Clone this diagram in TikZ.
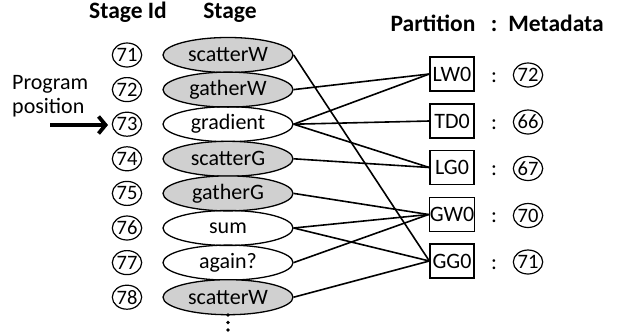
\documentclass[tikz,border=0pt]{standalone}
\usepackage{fontspec}
\setmainfont{Carlito}
\usetikzlibrary{shapes.geometric,arrows.meta}
\definecolor{stagegray}{RGB}{208,208,208}
\begin{document}
\begin{tikzpicture}[x=1pt,y=-1pt,
  sid/.style={draw,ellipse,line width=1.2pt,minimum width=27pt,minimum height=24pt,inner sep=0pt,font=\fontsize{20.5}{21}\selectfont},
  stg/.style={draw,ellipse,line width=1.3pt,minimum width=130pt,minimum height=35pt,inner sep=0pt,font=\fontsize{22}{24}\selectfont},
  grey/.style={stg,fill=stagegray},
  part/.style={draw,rectangle,line width=1.3pt,minimum width=44pt,minimum height=34pt,inner sep=0.5pt,font=\fontsize{22}{24}\selectfont},
  hdr/.style={font=\bfseries\fontsize{23.5}{26}\selectfont,inner sep=0pt,anchor=base},
  lbl/.style={font=\fontsize{22}{24}\selectfont,inner sep=0pt},
  colon/.style={lbl,anchor=base},
  conn/.style={line width=1.6pt}]
\useasboundingbox (0,0) rectangle (618,335);

% headers
\node[hdr] (hid) at (128,18) {Stage Id};
\node[hdr] (hst) at (230,18) {Stage};
\node[hdr] (hpa) at (433,31) {Partition};
\node[hdr] (hco) at (494,31) {:};
\node[hdr] (hme) at (556,31) {Metadata};

% program position
\node[lbl,anchor=base west] (prog) at (12,89) {Program};
\node[lbl,anchor=base west] (pos) at (12,113) {position};
\coordinate (ptail) at (50,125);
\coordinate (ptip) at (108,125);
\draw[line width=3.8pt,-{Straight Barb[length=7pt,width=17pt]}] (ptail) -- (ptip);

% stage ids
\node[sid] (s71) at (127,55) {71};
\node[sid] (s72) at (127,89.6) {72};
\node[sid] (s73) at (127,124.2) {73};
\node[sid] (s74) at (127,158.8) {74};
\node[sid] (s75) at (127,193.4) {75};
\node[sid] (s76) at (127,228) {76};
\node[sid] (s77) at (127,262.6) {77};
\node[sid] (s78) at (127,297.2) {78};

% stages
\node[grey] (a71) at (228,55) {scatterW};
\node[grey] (a72) at (228,89.6) {gatherW};
\node[stg] (a73) at (228,124.2) {gradient};
\node[grey] (a74) at (228,158.8) {scatterG};
\node[grey] (a75) at (228,193.4) {gatherG};
\node[stg] (a76) at (228,228) {sum};
\node[stg] (a77) at (228,262.6) {again?};
\node[grey] (a78) at (228,297.2) {scatterW};

% dots
\fill (228,315) circle (1.8pt);
\fill (228,322.5) circle (1.8pt);
\fill (228,330) circle (1.8pt);

% partitions
\node[part] (lw) at (452,74) {LW0};
\node[part] (td) at (452,121) {TD0};
\node[part] (lg) at (452,167.5) {LG0};
\node[part] (gw) at (452,214.5) {GW0};
\node[part] (gg) at (452,261) {GG0};

% colons
\node[colon] (c1) at (494,82) {:};
\node[colon] (c2) at (494,129) {:};
\node[colon] (c3) at (494,175.5) {:};
\node[colon] (c4) at (494,222.5) {:};
\node[colon] (c5) at (494,269) {:};

% metadata
\node[sid] (m1) at (528,75) {72};
\node[sid] (m2) at (528,122) {66};
\node[sid] (m3) at (528,168.5) {67};
\node[sid] (m4) at (528,215.5) {70};
\node[sid] (m5) at (528,262) {71};

% connectors
\draw[conn] (a71.east) -- (gg.west);
\draw[conn] (a72.east) -- (lw.west);
\draw[conn] (a73.east) -- (lw.west);
\draw[conn] (a73.east) -- (td.west);
\draw[conn] (a73.east) -- (lg.west);
\draw[conn] (a74.east) -- (lg.west);
\draw[conn] (a75.east) -- (gw.west);
\draw[conn] (a76.east) -- (gw.west);
\draw[conn] (a76.east) -- (gg.west);
\draw[conn] (a77.east) -- (gw.west);
\draw[conn] (a78.east) -- (gg.west);
\end{tikzpicture}
\end{document}
